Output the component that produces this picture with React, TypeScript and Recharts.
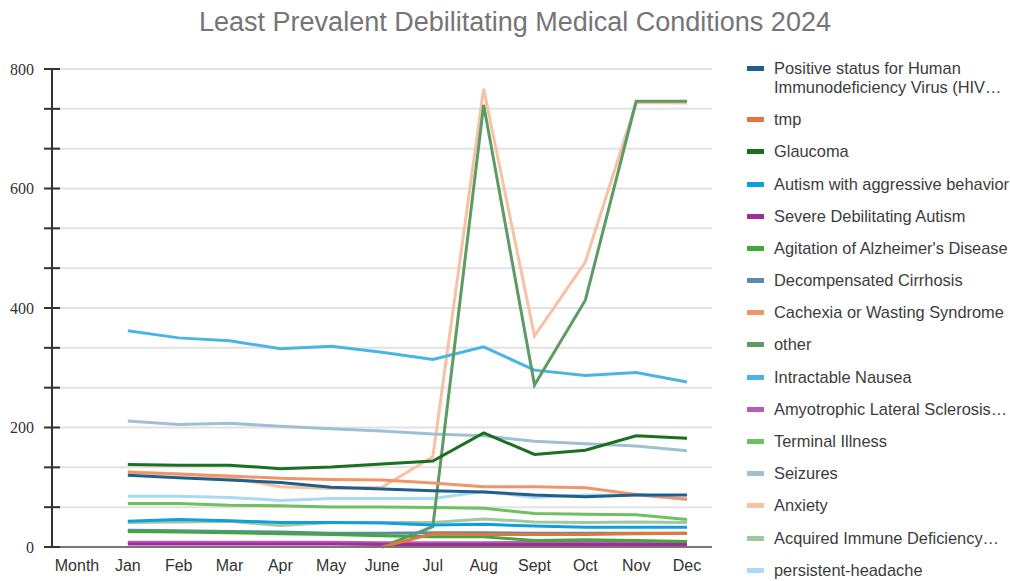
import { LineChart, Line, XAxis, YAxis, CartesianGrid } from "recharts";

const MONTHS = ["Month", "Jan", "Feb", "Mar", "Apr", "May", "June", "Jul", "Aug", "Sept", "Oct", "Nov", "Dec"];

const SERIES_NAMES = [
  "Positive status for Human\nImmunodeficiency Virus (HIV…",
  "tmp",
  "Glaucoma",
  "Autism with aggressive behavior",
  "Severe Debilitating Autism",
  "Agitation of Alzheimer's Disease",
  "Decompensated Cirrhosis",
  "Cachexia or Wasting Syndrome",
  "other",
  "Intractable Nausea",
  "Amyotrophic Lateral Sclerosis…",
  "Terminal Illness",
  "Seizures",
  "Anxiety",
  "Acquired Immune Deficiency…",
  "persistent-headache",
];

// values Jan..Dec, null = no value for that month
const hiv = [120, 116, 112, 108, 100, 97, 94, 92, 87, 84, 87, 87];
const tmp = [null, null, null, null, null, 0, 22, 21, 21, 21, 22, 23];
const glaucoma = [138, 137, 137, 131, 134, 139, 144, 191, 155, 162, 186, 182];
const autismAggressive = [43, 46, 44, 41, 41, 40, 37, 38, 35, 33, 33, 33];
const severeAutism = [5, 5, 5, 5, 5, 4, 4, 4, 4, 4, 4, 4];
const alzheimers = [26, 25, 24, 22, 21, 19, 17, 17, 11, 12, 11, 9];
const cirrhosis = [28, 27, 26, 25, 23, 23, 24, 24, 23, 23, 23, 23];
const cachexia = [125, 122, 119, 115, 113, 112, 107, 101, 101, 99, 88, 80];
const other = [null, null, null, null, null, 0, 34, 740, 271, 413, 746, 746];
const nausea = [362, 350, 345, 332, 336, 326, 314, 335, 296, 287, 292, 276];
const als = [8, 8, 8, 8, 8, 7, 7, 7, 8, 8, 8, 8];
const terminal = [73, 73, 70, 69, 67, 67, 66, 65, 56, 55, 54, 46];
const seizures = [211, 205, 207, 202, 198, 194, 189, 186, 177, 173, 169, 161];
const anxiety = [126, 122, 116, 101, 98, 100, 151, 767, 353, 477, 744, 743];
const aids = [41, 42, 43, 36, 41, 41, 41, 47, 42, 41, 42, 41];
const headache = [85, 85, 83, 78, 81, 81, 81, 93, 83, 87, 87, 80];

const SERIES_VALUES = [
  hiv, tmp, glaucoma, autismAggressive, severeAutism, alzheimers, cirrhosis, cachexia,
  other, nausea, als, terminal, seizures, anxiety, aids, headache,
];

const COLORS = [
  "#1f5f8b", "#e8743b", "#19701f", "#0f9fde", "#a12d97", "#43a83c", "#5a8bab", "#f0956a",
  "#5c9b63", "#4bb4e6", "#b55cb8", "#6ec061", "#9fc0d2", "#f7c1a3", "#a0c8a0", "#a8daf2",
];

const Y_TICKS = [0, 66.67, 133.33, 200, 266.67, 333.33, 400, 466.67, 533.33, 600, 666.67, 733.33, 800];
const Y_LABELS = [0, 200, 400, 600, 800];

const rows = MONTHS.map((m, i) => {
  const r: any = { month: m };
  if (i > 0) SERIES_VALUES.forEach((vals, s) => { r["s" + s] = vals[i - 1]; });
  return r;
});

const YTick = (props: any) => {
  const { x, y, payload } = props;
  const show = Y_LABELS.some(v => Math.abs(v - payload.value) < 0.5);
  return (
    <g>
      <line x1={x - 8} x2={x + 8} y1={y} y2={y} stroke="#333" strokeWidth={2} />
      {show && (
        <text x={x - 18} y={y} dy="0.35em" textAnchor="end" fill="#333"
          style={{ fontFamily: "'Liberation Serif', serif", fontSize: 16 }}>
          {Math.round(payload.value)}
        </text>
      )}
    </g>
  );
};

const XTick = (props: any) => {
  const { x, y, payload } = props;
  return (
    <text x={x} y={y + 18} dy="0.35em" textAnchor="middle" fill="#333"
      style={{ fontFamily: "'Liberation Sans', Arial, sans-serif", fontSize: 16 }}>
      {payload.value}
    </text>
  );
};

export default function App() {
  const order = SERIES_NAMES.map((_, i) => i).reverse();
  return (
    <div style={{ position: "absolute", left: 0, top: 0, width: 1010, height: 581, overflow: "hidden", background: "#fff" }}>
      <div style={{ position: "absolute", left: 0, top: 6, width: 1030, textAlign: "center", fontFamily: "'Liberation Sans', Arial, sans-serif", fontSize: 27, lineHeight: "32px", color: "#757575", whiteSpace: "nowrap" }}>
        Least Prevalent Debilitating Medical Conditions 2024
      </div>
      <div style={{ position: "absolute", left: 0, top: 0 }}>
        <LineChart width={1010} height={581} data={rows} margin={{ top: 69, right: 298, bottom: 0, left: 0 }}>
          <CartesianGrid vertical={false} stroke="#e2e2e2" strokeWidth={2} />
          <XAxis dataKey="month" interval={0} tickLine={false} tickSize={0} tickMargin={0} height={34}
            padding={{ left: 25, right: 25 }} axisLine={{ stroke: "#777", strokeWidth: 2 }} tick={<XTick />} />
          <YAxis domain={[0, 800]} ticks={Y_TICKS} interval={0} width={52} tickLine={false} tickSize={0} tickMargin={0}
            axisLine={{ stroke: "#333", strokeWidth: 2 }} tick={<YTick />} />
          {order.map(i => (
            <Line key={i} dataKey={"s" + i} name={SERIES_NAMES[i]} type="linear" stroke={COLORS[i]} strokeWidth={3}
              dot={false} activeDot={false} isAnimationActive={false} />
          ))}
        </LineChart>
      </div>
      <div style={{ position: "absolute", left: 747, top: 52.4, fontFamily: "'Liberation Sans', Arial, sans-serif", fontSize: 16.4, lineHeight: "19px", color: "#3c3c3c" }}>
        {SERIES_NAMES.map((name, i) => (
          <div key={i} style={{ display: "flex", alignItems: "flex-start", padding: "6.6px 0" }}>
            <div style={{ width: 17, height: 5, marginTop: 7, background: COLORS[i], flexShrink: 0 }} />
            <div style={{ marginLeft: 10, whiteSpace: "pre" }}>{name}</div>
          </div>
        ))}
      </div>
    </div>
  );
}
